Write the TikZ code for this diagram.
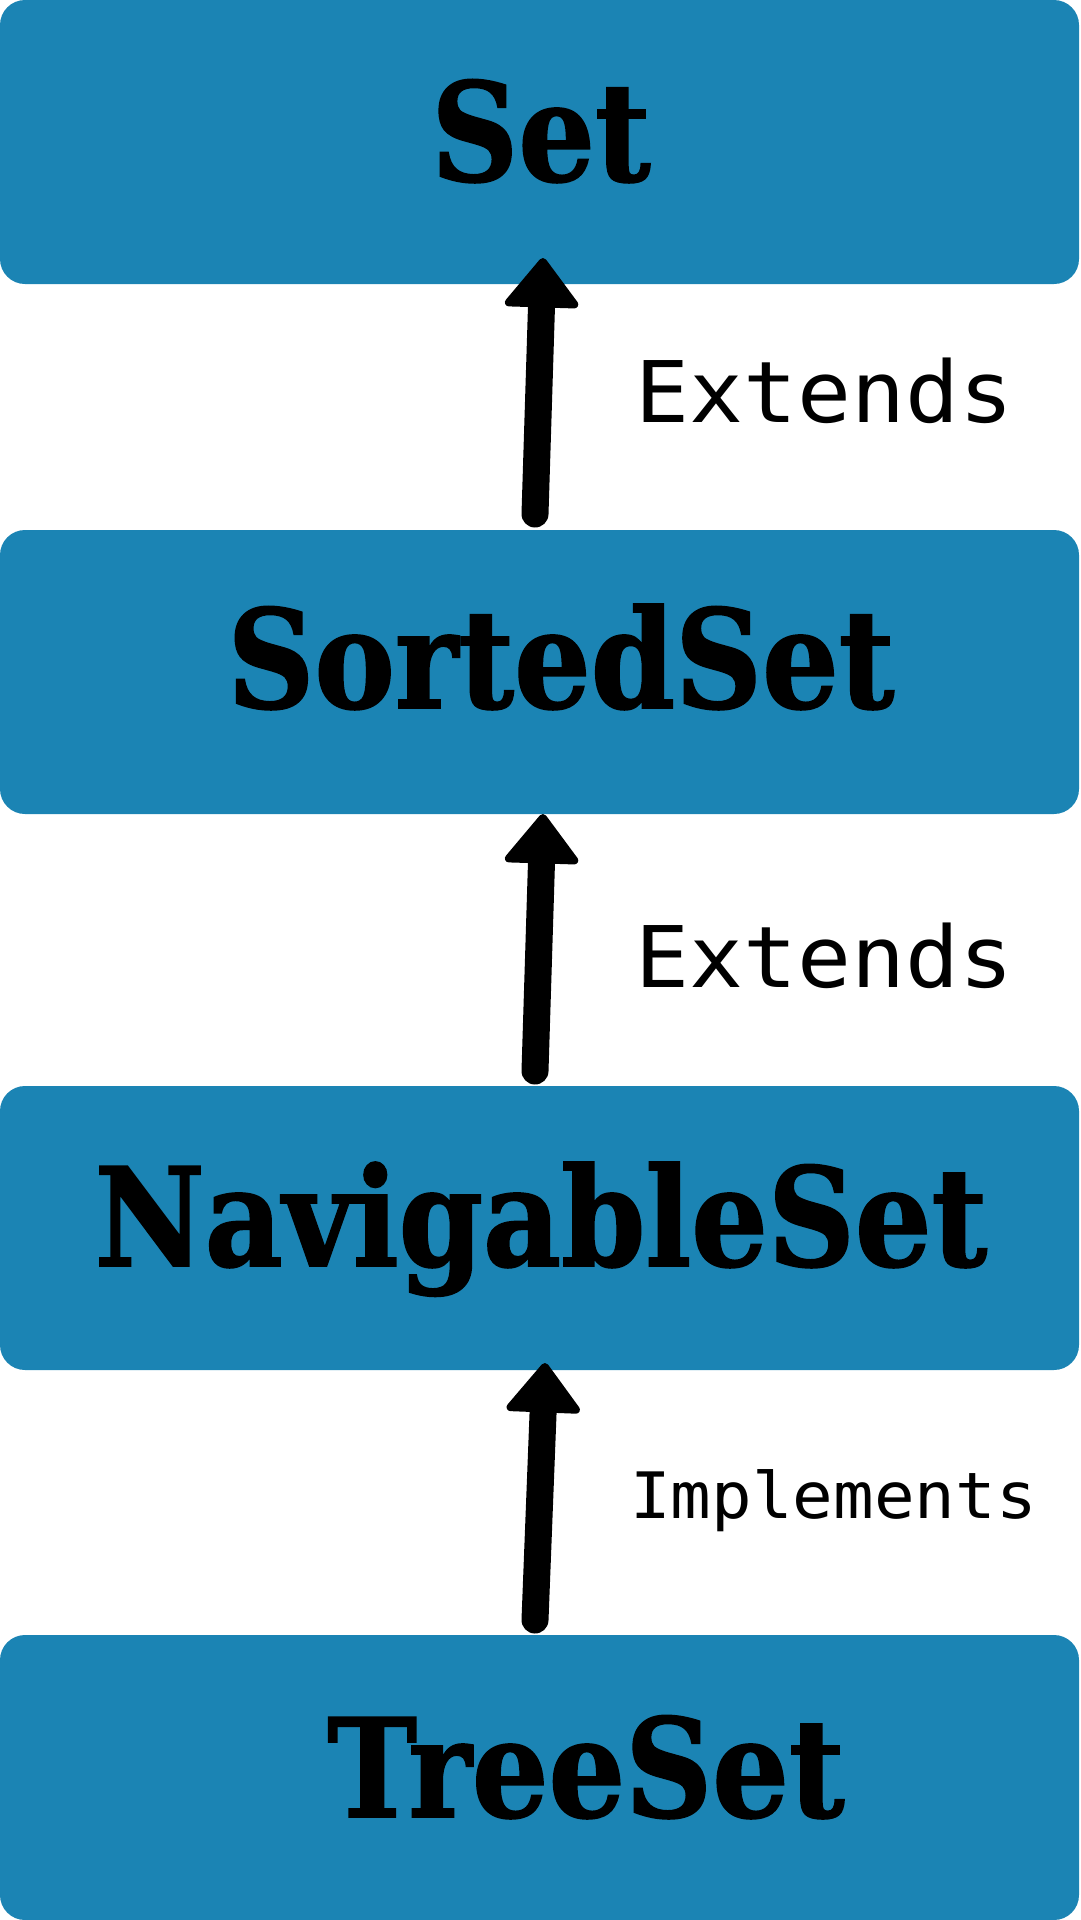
\documentclass[tikz,border=0pt]{standalone}
\usepackage{fontspec}
\usetikzlibrary{arrows.meta,calc}
\newfontfamily\boxfont[FakeStretch=0.88,FakeBold=1.2,UprightFont=*,BoldFont=* Bold]{DejaVu Serif}
\newfontfamily\lblfont[FakeStretch=1.055]{DejaVu Sans Mono}
\definecolor{boxblue}{RGB}{27,132,180}
\tikzset{
  setbox/.style={fill=boxblue,draw=none,rounded corners=25pt,minimum width=1079pt,inner sep=0pt,outer sep=0pt},
  boxtext/.style={anchor=base,inner sep=0pt,font=\boxfont\bfseries\fontsize{137}{140}\selectfont},
  relbig/.style={anchor=base west,inner sep=0pt,font=\lblfont\fontsize{85}{90}\selectfont},
  relsmall/.style={anchor=base west,inner sep=0pt,font=\lblfont\fontsize{64}{70}\selectfont},
  arr/.style={line width=27pt,line cap=round,-{Triangle[width=80pt,length=52pt,line width=8pt,round]}}
}
\begin{document}
\begin{tikzpicture}[x=1pt,y=-1pt]
\useasboundingbox (0,0) rectangle (1080,1920);
\node[setbox,minimum height=284pt] (b1) at (539.5,142) {};
\node[setbox,minimum height=284pt] (b2) at (539.5,672) {};
\node[setbox,minimum height=284pt] (b3) at (539.5,1228) {};
\node[setbox,minimum height=285pt] (b4) at (539.5,1777.5) {};
\node[boxtext] (t1) at (541,181) {Set};
\node[boxtext] (t2) at (561,708) {SortedSet};
\node[boxtext] (t3) at (541,1266) {NavigableSet};
\node[boxtext] (t4) at (586,1817) {TreeSet};
\draw[arr] ($(b2.north)+(-4.5,-16)$) -- ($(b1.south)+(3.5,-26)$);
\draw[arr] ($(b3.north)+(-4.5,-15)$) -- ($(b2.south)+(3.5,0)$);
\draw[arr] ($(b4.north)+(-4.5,-15)$) -- ($(b3.south)+(5.5,-7)$);
\node[relbig] (l1) at (635,422) {Extends};
\node[relbig] (l2) at (635,987) {Extends};
\node[relsmall] (l3) at (630,1518) {Implements};
\end{tikzpicture}
\end{document}
